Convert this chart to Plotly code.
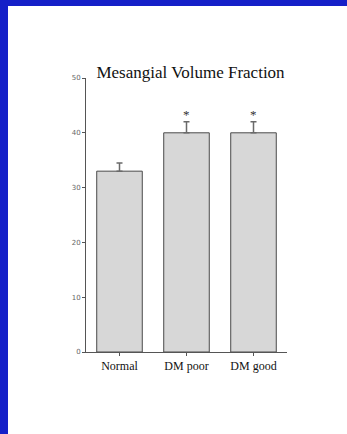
import plotly.graph_objects as go

# Group labels and measured values
categories = ["Normal", "DM poor", "DM good"]
means = [33, 40, 40]
sem = [1.5, 2, 2]
marks = ["", "*", "*"]
y_ticks = [0, 10, 20, 30, 40, 50]

W, H = 347, 434
L, R, T, B = 86, 60, 78, 82
pw, ph = W - L - R, H - T - B

fig = go.Figure()
fig.add_trace(go.Bar(
    x=categories, y=means, width=0.68,
    marker=dict(
        color="#e4e4e4",
        line=dict(color="#4a4a4a", width=1),
        pattern=dict(shape=".", fgcolor="#8c8c8c", bgcolor="#ececec", size=2, solidity=0.5),
    ),
    error_y=dict(type="data", symmetric=False, array=sem, arrayminus=[0] * len(sem),
                 color="#6a6a6a", thickness=1.5, width=3),
    showlegend=False,
))

for c, m, s, t in zip(categories, means, sem, marks):
    if t:
        fig.add_annotation(x=c, y=m + s, text=t, showarrow=False, yanchor="bottom", yshift=-2,
                           font=dict(family="Liberation Serif", size=13, color="#333"))

# Blue frame along the top and left edges of the page
def px_x(p):
    return (p - L) / pw

def px_y(p):
    return (H - B - p) / ph

fig.add_shape(type="rect", xref="paper", yref="paper", x0=px_x(0), x1=px_x(8), y0=px_y(434), y1=px_y(0),
              fillcolor="#1520c8", line_width=0, layer="above")
fig.add_shape(type="rect", xref="paper", yref="paper", x0=px_x(0), x1=px_x(347), y0=px_y(6), y1=px_y(0),
              fillcolor="#1520c8", line_width=0, layer="above")

fig.update_layout(
    width=W, height=H, margin=dict(l=L, r=R, t=T, b=B),
    paper_bgcolor="white", plot_bgcolor="white",
    title=dict(text="Mesangial Volume Fraction", x=190.5 / W, xanchor="center",
               y=1 - 72 / H, yanchor="middle",
               font=dict(family="Liberation Serif", size=17, color="#111")),
    xaxis=dict(range=[-0.5, 2.5], showline=True, linecolor="#555", linewidth=1,
               ticks="outside", ticklen=3, tickcolor="#555",
               tickfont=dict(family="Liberation Serif", size=12, color="#111"), showgrid=False),
    yaxis=dict(range=[0, 50], tickvals=y_ticks, showline=True, linecolor="#555", linewidth=1,
               ticks="outside", ticklen=3, tickcolor="#555", showgrid=False, zeroline=False,
               tickfont=dict(family="DejaVu Sans", size=7, color="#666")),
)

fig.write_html("out.html")
